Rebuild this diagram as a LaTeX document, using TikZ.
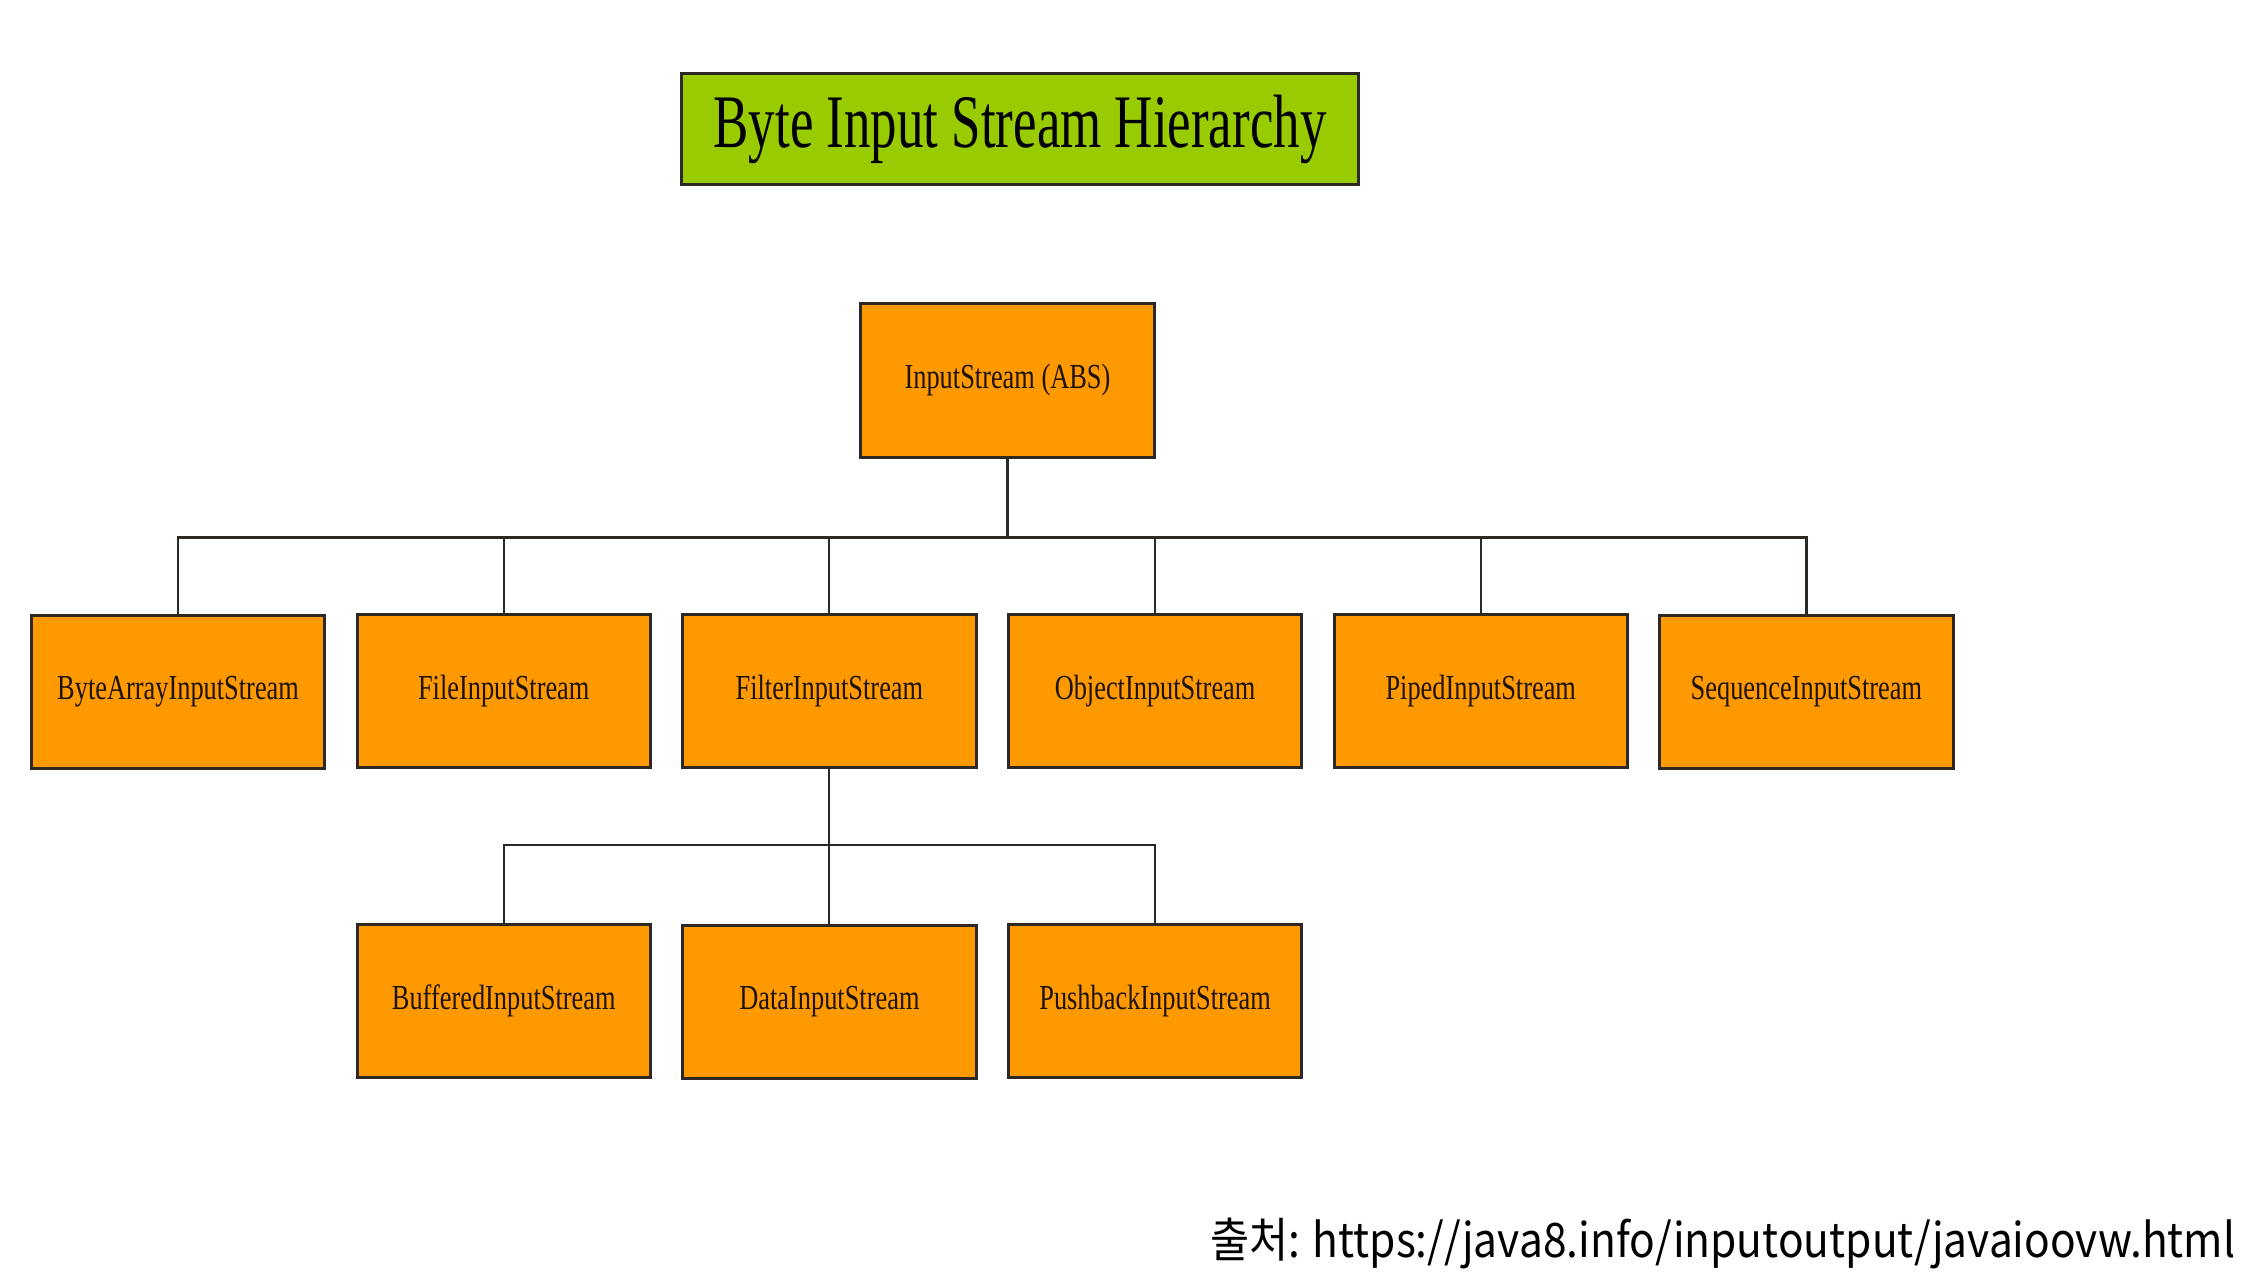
\documentclass[tikz,border=0pt]{standalone}
\usepackage{fontspec}
\setmainfont{Liberation Serif}[FakeStretch=0.75]
\newfontfamily\titelschrift{Liberation Serif}[FakeStretch=0.7]
\newfontfamily\cjk{Noto Sans CJK KR}[FakeStretch=0.895]
\usepackage{xcolor}
\usepackage{tikz}
\usetikzlibrary{matrix}
\usetikzlibrary{positioning}
\definecolor{kastenorange}{RGB}{255,153,0}
\definecolor{titelgruen}{RGB}{153,204,0}
\definecolor{rahmen}{RGB}{45,40,35}
\tikzset{
  Kasten/.style={draw=rahmen, line width=0.85pt, fill=kastenorange,
    minimum width=2.93cm, minimum height=1.53cm, inner sep=2pt,
    text=black!85!brown, font=\fontsize{10}{12}\selectfont}, % Klassen
  Titel/.style={draw=rahmen, line width=1pt, fill=titelgruen,
    minimum width=6.77cm, minimum height=1.11cm,
    font=\titelschrift\fontsize{21.5}{24}\selectfont}, % Ueberschrift
  Linie/.style={draw=rahmen, line width=0.6pt} % Verbindungen
}

\begin{document}
\begin{tikzpicture}[x=0.01cm, y=0.01cm]
\useasboundingbox (0,0) rectangle (2247,-1282);

%Ueberschrift
\node[Titel] (T) at (1020,-129) {Byte Input Stream Hierarchy};

%Klassen
\node[Kasten] (IS) at (1007.5,-380.5) {InputStream (ABS)};

\matrix (S) [
  matrix of nodes, anchor=north west,
  inner sep=0pt, outer sep=0pt,
  column sep=0.295cm, row sep=1.53cm,
  nodes={Kasten}
  ] at (30,-613)
{
  ByteArrayInputStream & FileInputStream & FilterInputStream & ObjectInputStream & PipedInputStream & SequenceInputStream \\
  & BufferedInputStream & DataInputStream & PushbackInputStream & & \\
};

%Leitungen
\draw[Linie] (IS.south) -- ++(0,-79) coordinate (B1);
\foreach \k in {1,...,6}
  \draw[Linie] (S-1-\k.north) |- (B1);

\draw[Linie] (S-1-3.south) -- ++(0,-77) coordinate (B2);
\foreach \k in {2,3,4}
  \draw[Linie] (S-2-\k.north) |- (B2);

%Quelle
\node[anchor=base east, inner sep=0pt, font=\cjk\fontsize{13.5}{16}\selectfont]
  (Q) at (2236,-1257) {출처: https://java8.info/inputoutput/javaioovw.html};

\end{tikzpicture}
\end{document}
